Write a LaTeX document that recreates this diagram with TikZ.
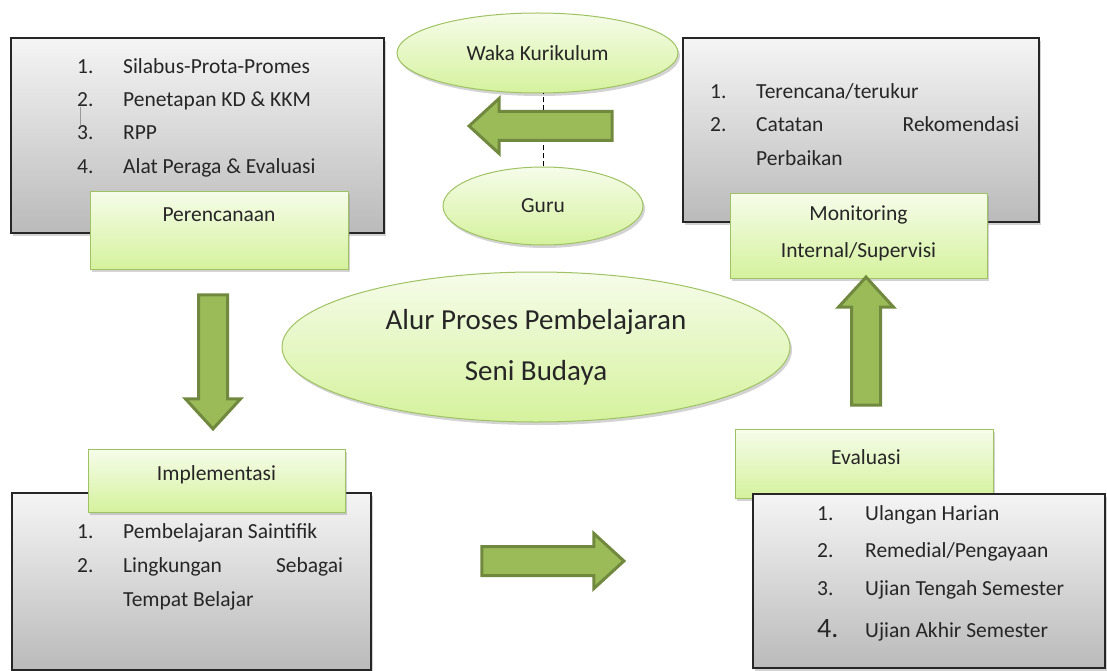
\documentclass[tikz,border=0pt]{standalone}
\usepackage{fontspec}
\setmainfont{Carlito}
\usetikzlibrary{shapes.geometric,shapes.arrows,shadows}
\definecolor{olivegreen}{HTML}{9BBB59}
\definecolor{olivedark}{HTML}{71893F}
\definecolor{greentop}{HTML}{F6FCEA}
\definecolor{greenbot}{HTML}{D5F29D}
\definecolor{greenline}{HTML}{9FC262}
\newcommand{\itemno}[2][46pt]{\makebox[#1][l]{#2}}

\begin{document}
\begin{tikzpicture}[x=1pt,y=-1pt,
    every node/.style={font=\fontsize{21.5}{33}\selectfont, text=black!85},
    graybox/.style={rectangle, draw=black!85, line width=1.5pt, inner sep=0pt,
        top color=black!4, bottom color=black!27,
        drop shadow={shadow xshift=2pt, shadow yshift=-3pt, opacity=.35}},
    greenbox/.style={rectangle, draw=greenline, line width=1pt, inner sep=0pt,
        top color=greentop, bottom color=greenbot,
        drop shadow={shadow xshift=2pt, shadow yshift=-3pt, opacity=.35}},
    greenoval/.style={ellipse, draw=greenline, line width=1pt, inner sep=0pt,
        top color=greentop, bottom color=greenbot,
        drop shadow={shadow xshift=2pt, shadow yshift=-3pt, opacity=.35}},
    blockarrow/.style={single arrow, draw=olivedark, fill=olivegreen, line width=3pt,
        inner sep=13pt, single arrow head extend=13pt,
        single arrow tip angle=85},
    listline/.style={anchor=base west, inner sep=0pt}]
    \useasboundingbox (0,0) rectangle (1107,671);

    % Perencanaan
    \node[graybox, minimum width=373pt, minimum height=195pt] (rencanabox) at (197.5,135.5) {};
    \node[listline] (r1) at (77,74) {\itemno{1.}Silabus-Prota-Promes};
    \node[listline] (r2) at (77,107) {\itemno{2.}Penetapan KD \& KKM};
    \node[listline] (r3) at (77,140) {\itemno{3.}RPP};
    \node[listline] (r4) at (77,174) {\itemno{4.}Alat Peraga \& Evaluasi};
    \draw[black!40, line width=0.6pt] (80,107) -- (80,125);
    \node[greenbox, minimum width=258pt, minimum height=78pt] (rencana) at (219,230) {};
    \node (rencanatext) at (219,215) {Perencanaan};

    % Monitoring
    \node[graybox, minimum width=356pt, minimum height=184pt] (monitorbox) at (861,130) {};
    \node[listline] (m1) at (710,99) {\itemno{1.}Terencana/terukur};
    \node[listline] (m2) at (710,132) {\itemno{2.}\makebox[263pt][s]{Catatan\hfill Rekomendasi}};
    \node[listline] (m3) at (710,165) {\itemno{}Perbaikan};
    \node[greenbox, minimum width=257pt, minimum height=85pt] (monitor) at (858.5,235.5) {};
    \node[align=center] (monitortext) at (858.5,233.5) {Monitoring\\[4pt]Internal/Supervisi};

    % Implementasi
    \node[graybox, minimum width=359pt, minimum height=177pt] (implbox) at (191.5,581.5) {};
    \node[listline] (i1) at (77,538) {\itemno{1.}Pembelajaran Saintifik};
    \node[listline] (i2) at (77,572) {\itemno{2.}\makebox[220pt][s]{Lingkungan\hfill Sebagai}};
    \node[listline] (i3) at (77,606) {\itemno{}Tempat Belajar};
    \node[greenbox, minimum width=257pt, minimum height=63pt] (impl) at (216.5,480.5) {};
    \node (impltext) at (216.5,475) {Implementasi};

    % Evaluasi
    \node[greenbox, minimum width=258pt, minimum height=69pt] (eval) at (864,463.5) {};
    \node (evaltext) at (866,457) {Evaluasi};
    \node[graybox, minimum width=352pt, minimum height=174pt] (evalbox) at (929,581) {};
    \node[listline] (e1) at (817,520) {\itemno[48pt]{1.}Ulangan Harian};
    \node[listline] (e2) at (817,557) {\itemno[48pt]{2.}Remedial/Pengayaan};
    \node[listline] (e3) at (817,595) {\itemno[48pt]{3.}Ujian Tengah Semester};
    \node[listline] (e4) at (817,637) {\itemno[48pt]{\fontsize{28}{28}\selectfont 4.}Ujian Akhir Semester};

    % Waka Kurikulum - Guru
    \node[greenoval, minimum width=281pt, minimum height=80pt] (waka) at (537.5,53) {Waka Kurikulum};
    \node[greenoval, minimum width=200pt, minimum height=78pt] (guru) at (543,206) {Guru};
    \draw[black, line width=1pt, dash pattern=on 5pt off 3pt] (guru.north) -- (guru.north |- waka.south);

    % judul
    \node[greenoval, minimum width=508pt, minimum height=150pt, align=center,
        font=\fontsize{29}{51}\selectfont] (alur) at (536,347) {Alur Proses Pembelajaran\\Seni Budaya};

    % panah
    \node[blockarrow, minimum height=143pt, shape border rotate=180] (kiri) at (548.5,126) {};
    \node[blockarrow, minimum height=134pt, shape border rotate=270] (bawah) at (213,354) {};
    \node[blockarrow, minimum height=142pt] (kanan) at (545,561) {};
    \node[blockarrow, minimum height=128pt, shape border rotate=90] (atas) at (866,349) {};
\end{tikzpicture}
\end{document}
